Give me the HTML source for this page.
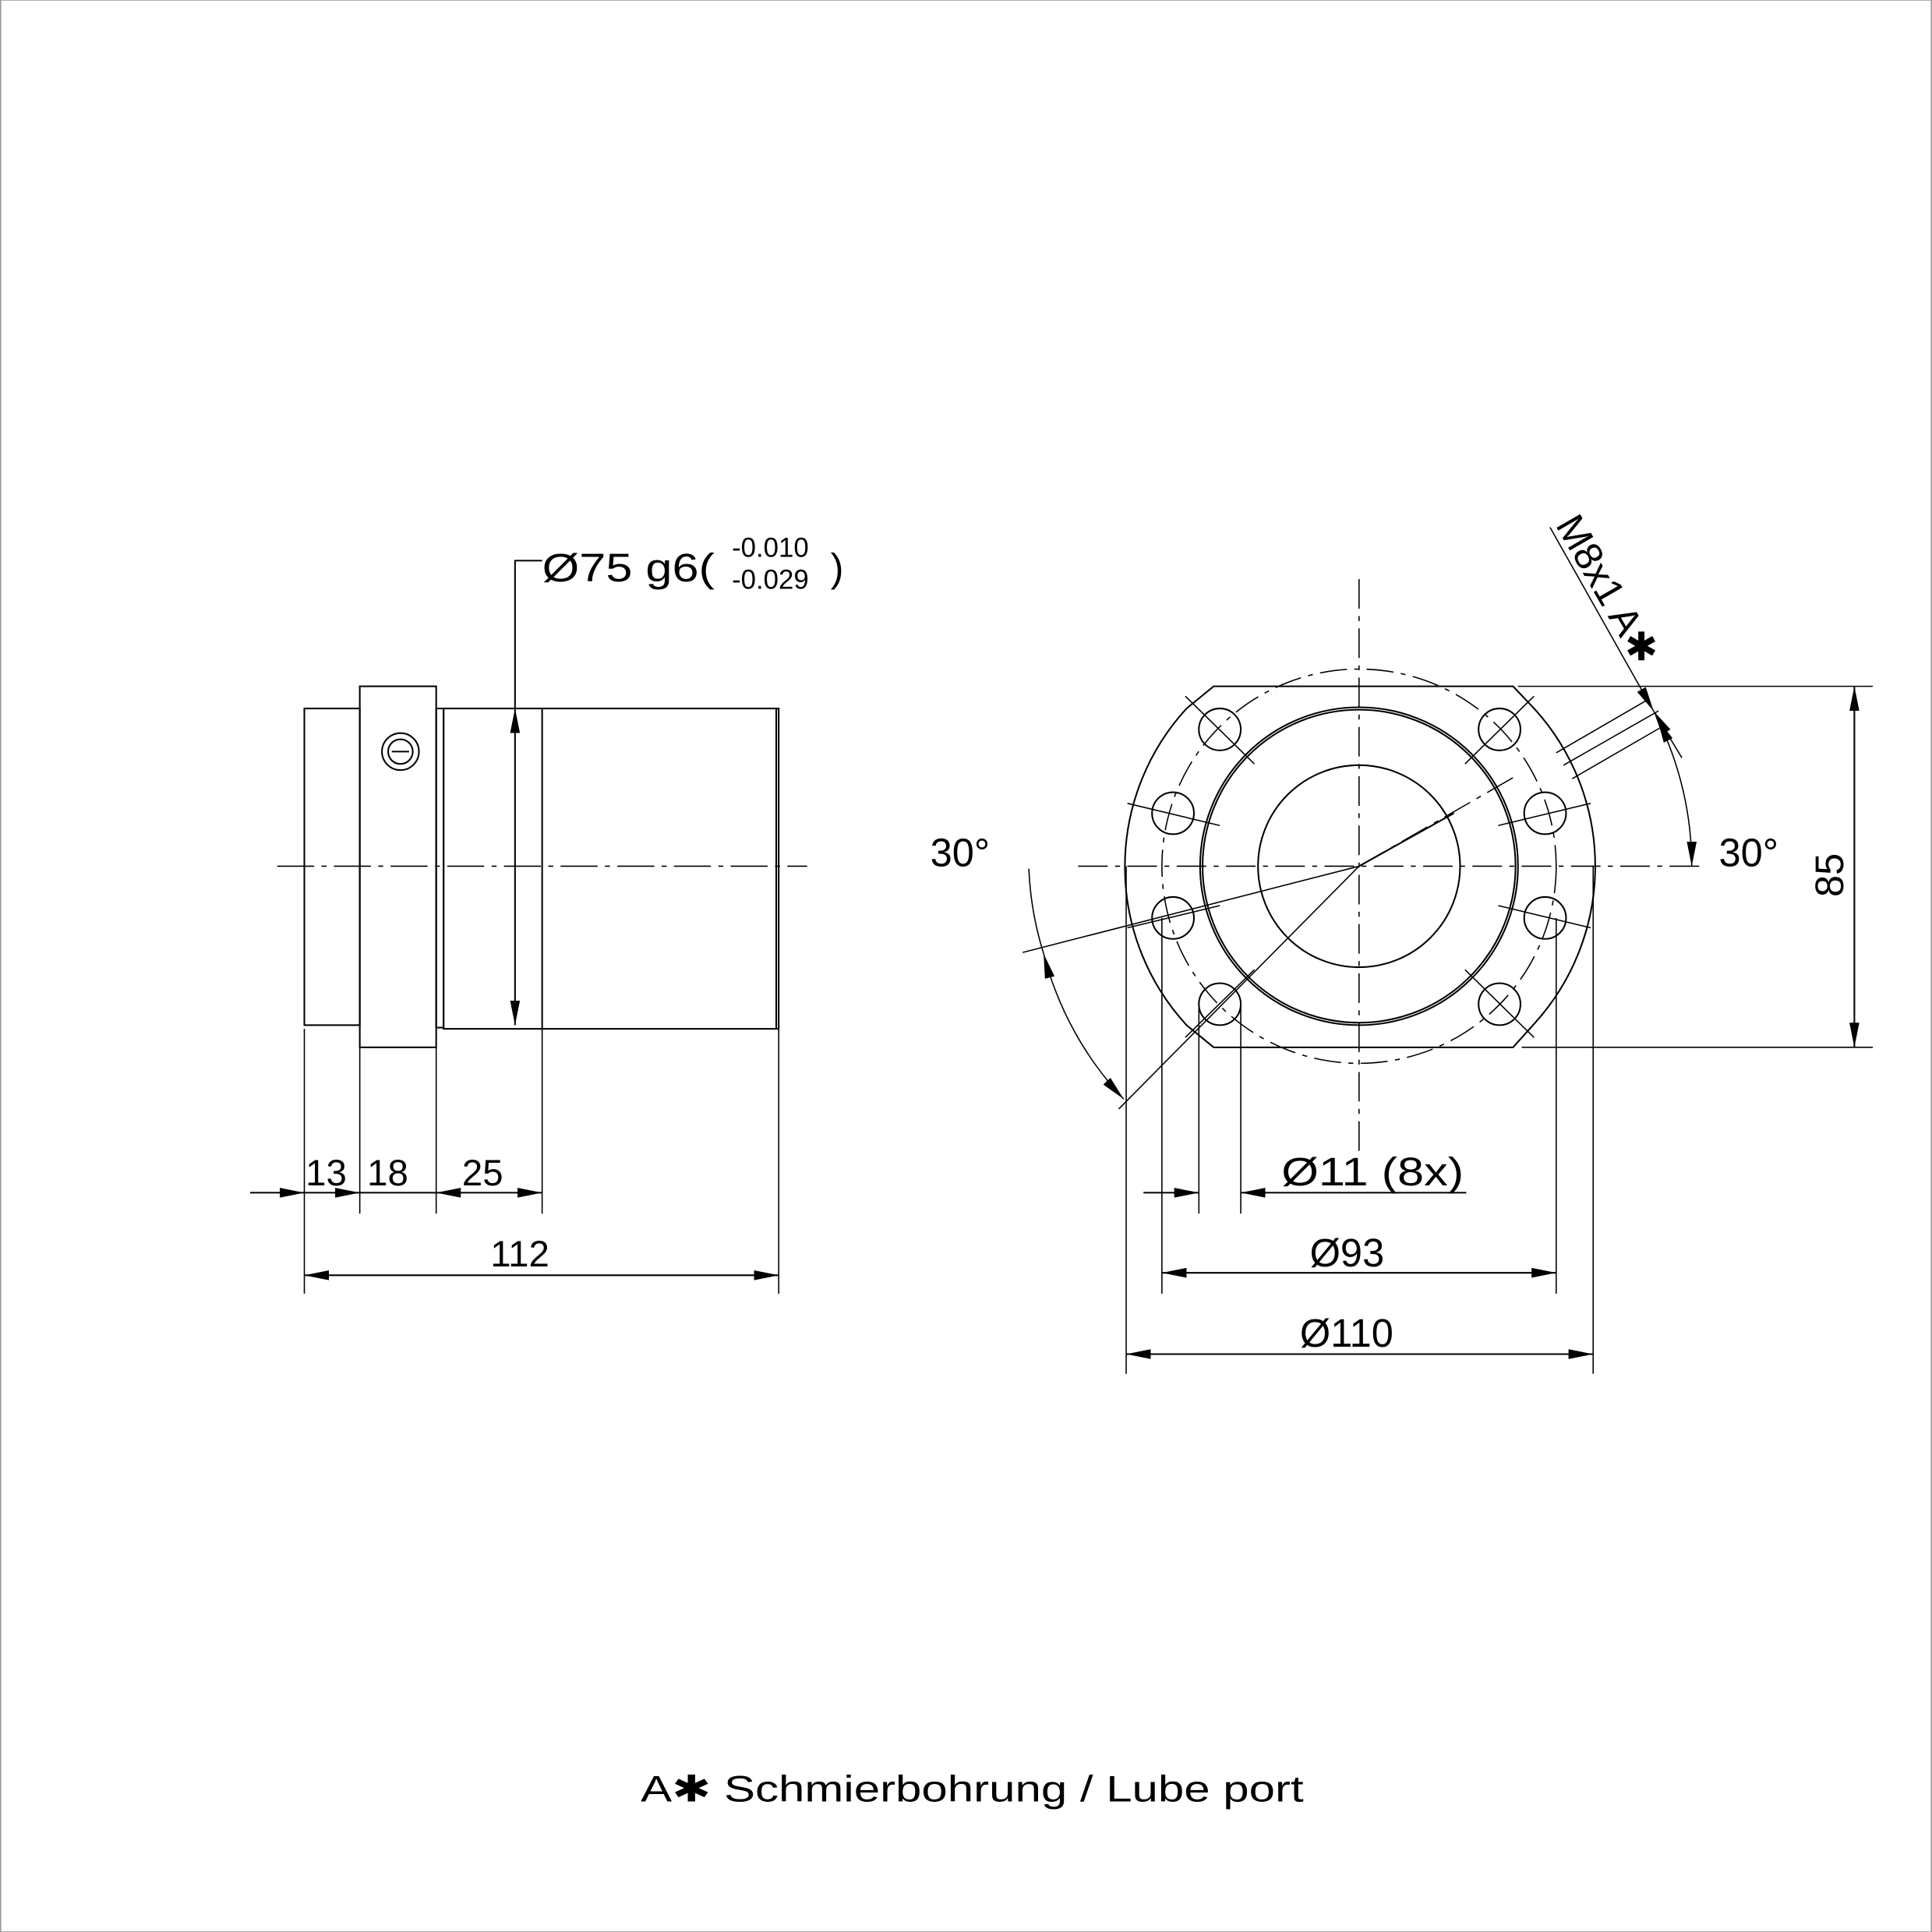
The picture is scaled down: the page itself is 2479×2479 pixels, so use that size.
<!DOCTYPE html>
<html><head><meta charset="utf-8"><style>html,body{margin:0;padding:0;background:#fff}svg{display:block}</style></head><body>
<svg width="2479" height="2479" viewBox="0 0 1568 1568" xmlns="http://www.w3.org/2000/svg" font-family="Liberation Sans, DejaVu Sans, sans-serif">
<defs>
<marker id="a" viewBox="0 0 20 8" refX="20" refY="4" markerWidth="20" markerHeight="8" markerUnits="userSpaceOnUse" orient="auto-start-reverse"><path d="M0,0 L20,4 L0,8 Z" fill="#000"/></marker>
</defs>
<rect x="0.5" y="0" width="1567" height="1568" fill="none" stroke="#999" stroke-width="1"/>
<g fill="none" stroke="#000" stroke-width="1.3">
<!-- left view -->
<rect x="247" y="575" width="45" height="257"/>
<rect x="292" y="557" width="62" height="293"/>
<rect x="354" y="575" width="6" height="259"/>
<rect x="360" y="575" width="272" height="260"/>
<line x1="630" y1="575" x2="630" y2="835"/>
<line x1="440" y1="575" x2="440" y2="835"/>
<circle cx="325" cy="610" r="15"/><circle cx="325" cy="610" r="10"/>
<line x1="318" y1="610" x2="332" y2="610"/>
<line x1="225" y1="703" x2="655" y2="703" stroke-width="1" stroke-dasharray="30,6,4,6"/>
<line x1="418" y1="575" x2="418" y2="832" marker-start="url(#a)" marker-end="url(#a)"/>
<polyline points="418,575 418,455 440,455"/>
<!-- left dims -->
<g stroke-width="1">
<line x1="247" y1="835" x2="247" y2="1050"/><line x1="292" y1="850" x2="292" y2="985"/>
<line x1="354" y1="850" x2="354" y2="985"/><line x1="440" y1="835" x2="440" y2="985"/>
<line x1="632" y1="835" x2="632" y2="1050"/>
</g>
<line x1="203" y1="968" x2="247" y2="968" marker-end="url(#a)"/>
<line x1="247" y1="968" x2="292" y2="968" marker-end="url(#a)"/>
<line x1="292" y1="968" x2="354" y2="968"/>
<line x1="354" y1="968" x2="440" y2="968" marker-start="url(#a)" marker-end="url(#a)"/>
<line x1="247" y1="1035" x2="632" y2="1035" marker-start="url(#a)" marker-end="url(#a)"/>
<!-- right view -->
<path d="M985,557 L1228,557 L1246,576 A190,190 0 0 1 1246,830 L1228,850 L985,850 L963,832 A190,190 0 0 1 963,575 Z"/>
<circle cx="1103" cy="703" r="160" stroke-width="1" stroke-dasharray="22,6,4,6"/>
<circle cx="1103" cy="703" r="129"/>
<circle cx="1103" cy="703" r="127"/>
<circle cx="1103" cy="703" r="82"/>
<g>
<circle cx="990" cy="592" r="17"/><circle cx="1217" cy="592" r="17"/>
<circle cx="952" cy="660" r="17"/><circle cx="1254" cy="660" r="17"/>
<circle cx="952" cy="745" r="17"/><circle cx="1254" cy="745" r="17"/>
<circle cx="990" cy="815" r="17"/><circle cx="1217" cy="815" r="17"/>
</g>
<g stroke-width="1">
<line x1="962" y1="565" x2="1018" y2="620"/><line x1="1245" y1="565" x2="1189" y2="620"/>
<line x1="962" y1="842" x2="1018" y2="787"/><line x1="1245" y1="842" x2="1189" y2="787"/>
<line x1="915" y1="652" x2="990" y2="670"/><line x1="1291" y1="652" x2="1216" y2="670"/>
<line x1="915" y1="753" x2="990" y2="735"/><line x1="1291" y1="753" x2="1216" y2="735"/>
</g>
<g stroke-width="1" stroke-dasharray="24,6,4,6">
<line x1="1103" y1="470" x2="1103" y2="935"/>
<line x1="875" y1="703" x2="1380" y2="703"/>
</g>
<!-- 30 deg lube line -->
<line x1="1103" y1="703" x2="1230" y2="630" stroke-dasharray="24,6,4,6" stroke-width="1"/>
<line x1="1103" y1="703" x2="1180" y2="660" stroke-width="1.3"/>
<line x1="1263" y1="611" x2="1337" y2="568" stroke-width="1"/>
<line x1="1269" y1="621" x2="1346" y2="577" stroke-width="1"/>
<line x1="1276" y1="632" x2="1352" y2="588" stroke-width="1"/>
<line x1="1258" y1="428" x2="1342" y2="577" stroke-width="1" marker-end="url(#a)"/>
<line x1="1365" y1="615" x2="1342" y2="577" stroke-width="1" marker-end="url(#a)"/>
<path d="M1345,583 A270,270 0 0 1 1373,703" stroke-width="1" marker-start="url(#a)" marker-end="url(#a)"/>
<!-- lower left 30 deg -->
<line x1="1103" y1="703" x2="908" y2="900" stroke-width="1"/>
<line x1="1103" y1="703" x2="830" y2="773" stroke-width="1"/>
<path d="M835,705 A270,270 0 0 0 847,774" stroke-width="1"/>
<path d="M847,774 A270,270 0 0 0 912,892" stroke-width="1" marker-start="url(#a)" marker-end="url(#a)"/>
<!-- 85 -->
<line x1="1232" y1="557" x2="1520" y2="557" stroke-width="1"/>
<line x1="1235" y1="850" x2="1520" y2="850" stroke-width="1"/>
<line x1="1505" y1="557" x2="1505" y2="850" marker-start="url(#a)" marker-end="url(#a)"/>
<!-- bottom dims -->
<g stroke-width="1">
<line x1="914" y1="703" x2="914" y2="1115"/><line x1="1293" y1="703" x2="1293" y2="1115"/>
<line x1="943" y1="745" x2="943" y2="1050"/><line x1="1263" y1="745" x2="1263" y2="1050"/>
<line x1="973" y1="815" x2="973" y2="985"/><line x1="1007" y1="815" x2="1007" y2="985"/>
</g>
<line x1="928" y1="968" x2="973" y2="968" marker-end="url(#a)"/>
<line x1="1007" y1="968" x2="1190" y2="968" marker-start="url(#a)"/>
<line x1="943" y1="1033" x2="1263" y2="1033" marker-start="url(#a)" marker-end="url(#a)"/>
<line x1="914" y1="1099" x2="1293" y2="1099" marker-start="url(#a)" marker-end="url(#a)"/>
</g>
<g font-size="32" fill="#000">
<text x="440" y="472" textLength="140" lengthAdjust="spacingAndGlyphs">Ø75 g6(</text>
<text x="594" y="452" font-size="22">-0.010</text>
<text x="594" y="478" font-size="22">-0.029</text>
<text x="674" y="472">)</text>
<text x="248" y="962" font-size="30">13</text>
<text x="298" y="962" font-size="30">18</text>
<text x="375" y="962" font-size="30">25</text>
<text x="398" y="1028" font-size="30">112</text>
<text x="755" y="703">30°</text>
<text x="1395" y="703">30°</text>
<text x="1040" y="962" textLength="148" lengthAdjust="spacingAndGlyphs">Ø11 (8x)</text>
<text x="1063" y="1028">Ø93</text>
<text x="1055" y="1093">Ø110</text>
<text x="0" y="0" transform="translate(1496,728) rotate(-90)">85</text>
<text x="0" y="0" transform="translate(1262,426) rotate(60)">M8x1 A✱</text>
<text x="520" y="1462" font-size="30" textLength="538" lengthAdjust="spacingAndGlyphs">A✱ Schmierbohrung / Lube port</text>
</g>
</svg>
</body></html>
